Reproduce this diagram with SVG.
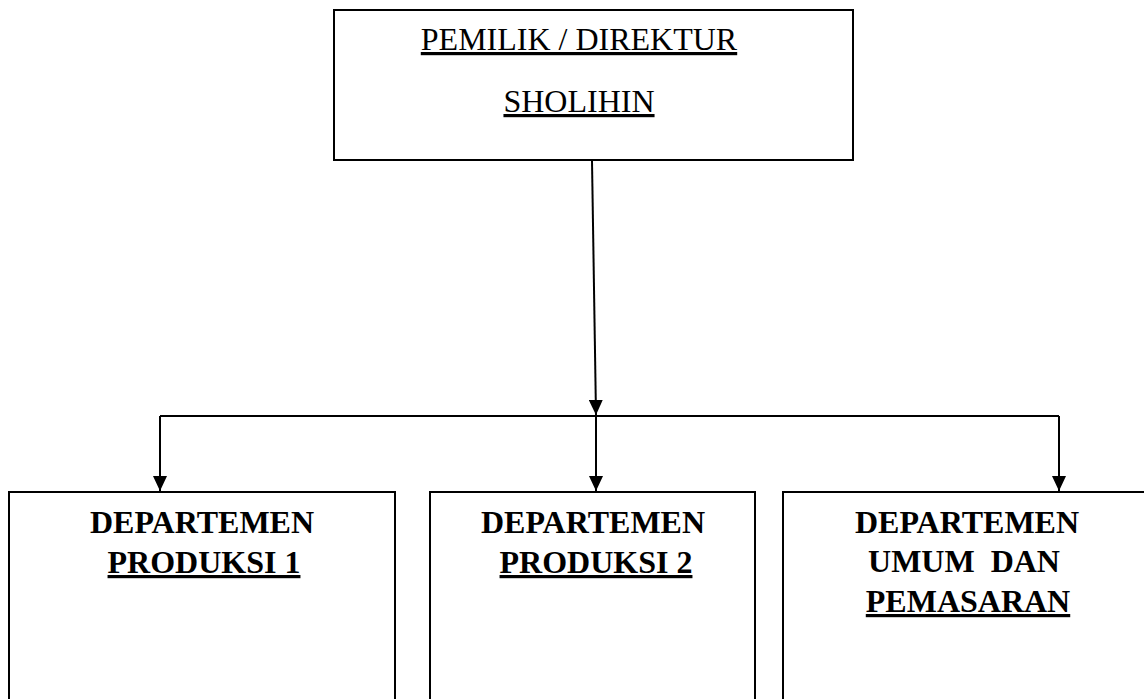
<svg xmlns="http://www.w3.org/2000/svg" width="1144" height="699" viewBox="0 0 1144 699">
  <style>
    .box { fill: #ffffff; stroke: #000000; stroke-width: 2; }
    .conn { fill: none; stroke: #000000; stroke-width: 2; }
    .head { fill: #000000; stroke: none; }
    .title { font-family: "Liberation Serif", "Times New Roman", serif; font-size: 32px; fill: #000000; text-anchor: middle; }
    .dept { font-family: "Liberation Serif", "Times New Roman", serif; font-size: 32px; font-weight: bold; fill: #000000; text-anchor: middle; }
    .ul { text-decoration: underline; }
  </style>
  <defs>
    <marker id="arrow" viewBox="0 0 15 14" refX="15" refY="7" markerWidth="15" markerHeight="14" markerUnits="userSpaceOnUse" orient="auto">
      <path class="head" d="M0,0 L15,7 L0,14 Z"/>
    </marker>
  </defs>

  <rect width="1144" height="699" fill="#ffffff"/>

  <!-- Director -->
  <g id="node-direktur">
    <rect class="box" x="334" y="10" width="519" height="150"/>
    <text class="title ul" x="579" y="50">PEMILIK / DIREKTUR</text>
    <text class="title ul" x="579" y="112">SHOLIHIN</text>
  </g>

  <!-- Departments -->
  <g id="node-produksi-1">
    <rect class="box" x="9" y="492" width="386" height="220"/>
    <text class="dept" x="202" y="533">DEPARTEMEN</text>
    <text class="dept ul" x="204" y="573">PRODUKSI 1</text>
  </g>

  <g id="node-produksi-2">
    <rect class="box" x="430" y="492" width="325" height="220"/>
    <text class="dept" x="593" y="533">DEPARTEMEN</text>
    <text class="dept ul" x="596" y="573">PRODUKSI 2</text>
  </g>

  <g id="node-umum-pemasaran">
    <rect class="box" x="783" y="492" width="370" height="220"/>
    <text class="dept" x="967" y="533">DEPARTEMEN</text>
    <text class="dept" x="964" y="572" xml:space="preserve">UMUM  DAN</text>
    <text class="dept ul" x="968" y="612">PEMASARAN</text>
  </g>

  <!-- Connectors -->
  <g id="connectors">
    <line class="conn" x1="592" y1="161" x2="596" y2="415" stroke-width="2.5" marker-end="url(#arrow)"/>
    <line class="conn" x1="160" y1="416" x2="1059" y2="416"/>
    <line class="conn" x1="160" y1="416" x2="160" y2="491" marker-end="url(#arrow)"/>
    <line class="conn" x1="596" y1="416" x2="596" y2="491" marker-end="url(#arrow)"/>
    <line class="conn" x1="1059" y1="416" x2="1059" y2="491" marker-end="url(#arrow)"/>
  </g>
</svg>
